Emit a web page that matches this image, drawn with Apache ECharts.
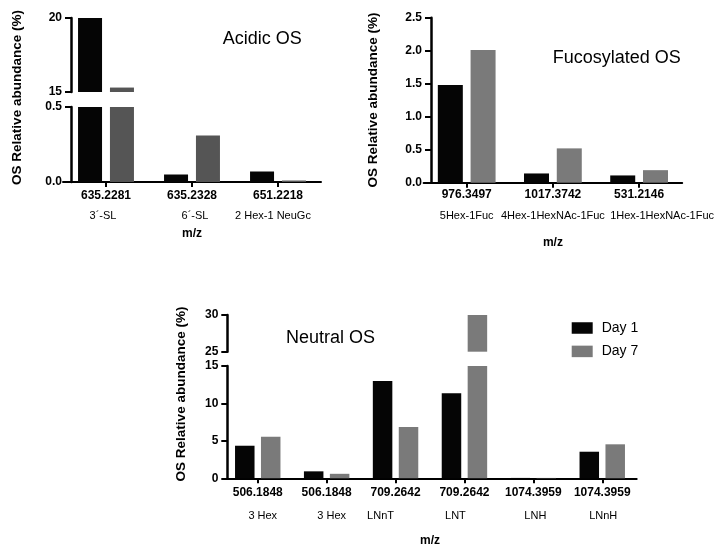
<!DOCTYPE html>
<html>
<head>
<meta charset="utf-8">
<script src="https://cdn.jsdelivr.net/npm/echarts@6/dist/echarts.min.js"></script>
<style>
html,body{margin:0;padding:0;background:#fff;}
#chart{width:718px;height:545px;}
</style>
</head>
<body>
<div id="chart"></div>
<script>
// ---------------- DATA ----------------
const acidicMz = ['635.2281', '635.2328', '651.2218'];
const acidicNames = ['3´-SL', '6´-SL', '2 Hex-1 NeuGc'];
const acidicDay1 = [20, 0.05, 0.07];
const acidicDay7 = [15.3, 0.31, 0.01];

const fucoMz = ['976.3497', '1017.3742', '531.2146'];
const fucoNames = ['5Hex-1Fuc', '4Hex-1HexNAc-1Fuc', '1Hex-1HexNAc-1Fuc'];
const fucoDay1 = [1.48, 0.14, 0.11];
const fucoDay7 = [2.01, 0.52, 0.19];

const neutralMz = ['506.1848', '506.1848', '709.2642', '709.2642', '1074.3959', '1074.3959'];
const neutralNames = ['3 Hex', '3 Hex', 'LNnT', 'LNT', 'LNH', 'LNnH'];
const neutralDay1 = [4.35, 0.93, 13.0, 11.35, 0.05, 3.55];
const neutralDay7 = [5.55, 0.6, 6.85, 30, 0.05, 4.54];

const seriesNames = ['Day 1', 'Day 7'];

// ---------------- STYLE ----------------
const FONT = 'Liberation Sans, Arial, Helvetica, sans-serif';
const BLACK = '#050505';
const GRAY_A = '#555555';
const GRAY = '#7a7a7a';

// label horizontal shifts (layout only)
const acidicShift = [-3, 3, -5];
const fucoShift = [0, 0, 23];
const neutralShift = [5, 5, -15, -9, 2, 1];

function idx(arr) { return arr.map((_, i) => String(i)); }

function richFor(shifts, nameLH) {
  const r = { a: { fontFamily: FONT, fontWeight: 'bold', fontSize: 12, lineHeight: 14, color: '#000' } };
  shifts.forEach((s, i) => {
    r['n' + i] = {
      fontFamily: FONT, fontSize: 11, lineHeight: nameLH, color: '#000',
      padding: s >= 0 ? [0, 0, 0, 2 * s] : [0, -2 * s, 0, 0]
    };
  });
  return r;
}

function xLower(gridIndex, mz, names, shifts, margin, nameLH, nameGap) {
  return {
    type: 'category', gridIndex, data: idx(mz),
    axisLine: { show: true, lineStyle: { color: '#000', width: 2 } },
    axisTick: { show: true, alignWithLabel: true, length: 5, lineStyle: { color: '#000', width: 2 } },
    axisLabel: {
      interval: 0, margin,
      formatter: (v) => { const i = Number(v); return '{a|' + mz[i] + '}\n{n' + i + '|' + names[i] + '}'; },
      rich: richFor(shifts, nameLH)
    },
    splitLine: { show: false },
    name: 'm/z', nameLocation: 'middle', nameGap,
    nameTextStyle: { fontFamily: FONT, fontWeight: 'bold', fontSize: 12, color: '#000' }
  };
}
function xUpper(gridIndex, mz) {
  return { type: 'category', gridIndex, data: idx(mz), show: false };
}
function yAx(gridIndex, min, max, interval, offset, digits) {
  return {
    type: 'value', gridIndex, min, max, interval, offset,
    axisLine: { show: true, lineStyle: { color: '#000', width: 2.5 } },
    axisTick: { show: true, length: 6, lineStyle: { color: '#000', width: 2 } },
    axisLabel: {
      color: '#000', fontFamily: FONT, fontWeight: 'bold', fontSize: 12, margin: 9,
      formatter: (v) => v.toFixed(digits)
    },
    splitLine: { show: false }
  };
}
function bar(name, axisIdx, data, color, width, gap) {
  return {
    type: 'bar', name, xAxisIndex: axisIdx, yAxisIndex: axisIdx, data,
    barWidth: width, barGap: gap, clip: true,
    itemStyle: { color }, emphasis: { disabled: true }, silent: true
  };
}
const above = (arr, m) => arr.map(v => (v >= m ? v : '-'));

const grids = [
  { left: 63, width: 258, top: 18, height: 74 },       // 0 acidic upper
  { left: 63, width: 258, top: 107, height: 75 },      // 1 acidic lower
  { left: 423.6, width: 258.6, top: 17.7, height: 165 }, // 2 fuco
  { left: 223.3, width: 413.4, top: 315, height: 36.7 }, // 3 neutral upper
  { left: 223.3, width: 413.4, top: 366, height: 112.3 } // 4 neutral lower
].map(g => Object.assign({ containLabel: false, outerBoundsMode: 'none' }, g));

const option = {
  animation: false,
  backgroundColor: '#fff',
  textStyle: { fontFamily: FONT },
  grid: grids,
  xAxis: [
    xUpper(0, acidicMz),
    xLower(1, acidicMz, acidicNames, acidicShift, 7, 26, 46),
    xLower(2, fucoMz, fucoNames, fucoShift, 5, 29, 54),
    xUpper(3, neutralMz),
    xLower(4, neutralMz, neutralNames, neutralShift, 7, 34, 56)
  ],
  yAxis: [
    yAx(0, 15, 20, 5, -8, 0),
    yAx(1, 0, 0.5, 0.5, -8, 1),
    yAx(2, 0, 2.5, 0.5, -7.4, 1),
    yAx(3, 25, 30, 5, -4, 0),
    yAx(4, 0, 15, 5, -4, 0)
  ],
  legend: {
    orient: 'vertical', left: 566.7, top: 316,
    itemWidth: 21, itemHeight: 11.5, itemGap: 9.4, icon: 'rect',
    textStyle: { fontFamily: FONT, fontSize: 14, color: '#000', lineHeight: 14, padding: [0, 0, 0, 4] },
    data: [
      { name: seriesNames[0], itemStyle: { color: BLACK } },
      { name: seriesNames[1], itemStyle: { color: GRAY } }
    ],
    selectedMode: false
  },
  series: [
    bar(seriesNames[0], 0, above(acidicDay1, 15), BLACK, 24, '33%'),
    bar(seriesNames[1], 0, above(acidicDay7, 15), GRAY_A, 24, '33%'),
    bar(seriesNames[0], 1, acidicDay1, BLACK, 24, '33%'),
    bar(seriesNames[1], 1, acidicDay7, GRAY_A, 24, '33%'),
    bar(seriesNames[0], 2, fucoDay1, BLACK, 25, '31%'),
    bar(seriesNames[1], 2, fucoDay7, GRAY, 25, '31%'),
    bar(seriesNames[0], 3, above(neutralDay1, 25), BLACK, 19.5, '33%'),
    bar(seriesNames[1], 3, above(neutralDay7, 25), GRAY, 19.5, '33%'),
    bar(seriesNames[0], 4, neutralDay1, BLACK, 19.5, '33%'),
    bar(seriesNames[1], 4, neutralDay7, GRAY, 19.5, '33%')
  ],
  graphic: [
    { type: 'text', x: 222.7, y: 39, style: { text: 'Acidic OS', fontFamily: FONT, fontSize: 18, fill: '#000', align: 'left', verticalAlign: 'middle' } },
    { type: 'text', x: 552.7, y: 58, style: { text: 'Fucosylated OS', fontFamily: FONT, fontSize: 18, fill: '#000', align: 'left', verticalAlign: 'middle' } },
    { type: 'text', x: 286, y: 337.7, style: { text: 'Neutral OS', fontFamily: FONT, fontSize: 18, fill: '#000', align: 'left', verticalAlign: 'middle' } },
    { type: 'text', x: 17, y: 97.5, rotation: Math.PI / 2, style: { text: 'OS Relative abundance (%)', fontFamily: FONT, fontWeight: 'bold', fontSize: 13.5, fill: '#000', align: 'center', verticalAlign: 'middle' } },
    { type: 'text', x: 373.5, y: 100, rotation: Math.PI / 2, style: { text: 'OS Relative abundance (%)', fontFamily: FONT, fontWeight: 'bold', fontSize: 13.5, fill: '#000', align: 'center', verticalAlign: 'middle' } },
    { type: 'text', x: 181, y: 394, rotation: Math.PI / 2, style: { text: 'OS Relative abundance (%)', fontFamily: FONT, fontWeight: 'bold', fontSize: 13.5, fill: '#000', align: 'center', verticalAlign: 'middle' } }
  ]
};

const chart = echarts.init(document.getElementById('chart'), null, { renderer: 'canvas' });
chart.setOption(option);
</script>
</body>
</html>
